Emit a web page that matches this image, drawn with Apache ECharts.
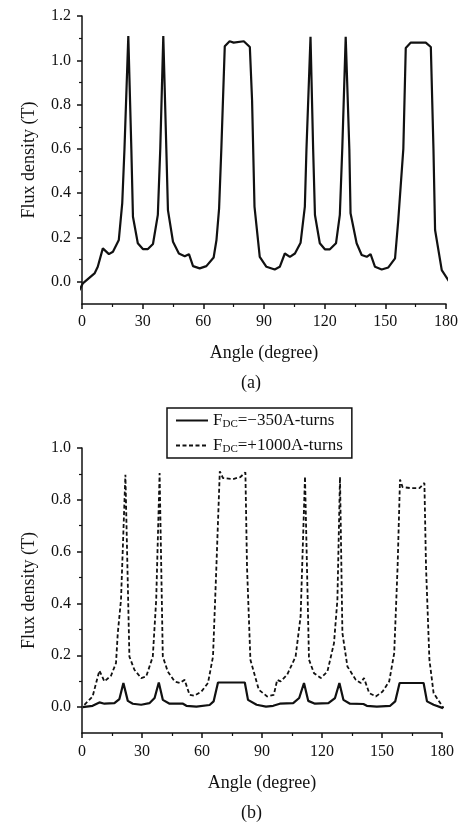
<!DOCTYPE html>
<html>
<head>
<meta charset="utf-8">
<title>Flux density</title>
<script src="https://cdn.jsdelivr.net/npm/echarts@6/dist/echarts.min.js"></script>
<style>
  html, body { margin: 0; padding: 0; background: #fff; }
  #main { width: 468px; height: 827px; }
</style>
</head>
<body>
<div id="main"></div>
<script>
// (a) flux density vs angle
var angleA = [-2, 0.4, 6.2, 7.8, 10.3, 13.3, 15.3, 18.2, 19.9, 21, 22.9, 24.4, 25.2, 27.6, 30.1, 32.6, 35.1, 37.5, 38.7, 40.2,
  41.7, 42.5, 45, 47.9, 50.8, 52.9, 54.9, 58.2, 61.5, 65.1, 66.5, 67.8, 68.9, 70.6, 73, 75, 80, 83, 84.1, 85.3,
  87.9, 91.2, 95.3, 97.8, 100.3, 102.8, 105.3, 108.1, 110.2, 111, 113, 114.3, 115.2, 117.6, 120.1, 122.6, 125.6, 127.5, 128.7, 130.4,
  132.2, 132.8, 135.8, 138.3, 140.8, 142.7, 144.9, 148.2, 151.5, 154.8, 156.4, 158.9, 160.1, 162.6, 170, 172.5, 173.8, 174.6, 177.9, 182.4];
var fluxA = [-0.05, -0.007, 0.038, 0.068, 0.151, 0.125, 0.136, 0.189, 0.355, 0.6, 1.11, 0.6, 0.294, 0.174, 0.148, 0.148, 0.171, 0.302, 0.6, 1.11,
  0.6, 0.324, 0.181, 0.128, 0.116, 0.125, 0.071, 0.061, 0.071, 0.11, 0.189, 0.332, 0.6, 1.063, 1.086, 1.08, 1.086, 1.06, 0.82, 0.34,
  0.113, 0.068, 0.056, 0.068, 0.128, 0.113, 0.128, 0.177, 0.34, 0.6, 1.106, 0.6, 0.302, 0.174, 0.147, 0.147, 0.174, 0.302, 0.6, 1.106,
  0.6, 0.31, 0.174, 0.121, 0.113, 0.125, 0.068, 0.056, 0.065, 0.106, 0.279, 0.6, 1.056, 1.08, 1.08, 1.06, 0.6, 0.234, 0.053, -0.01];

// (b) solid: FDC = -350 A-turns
var angleB1 = [0.3, 5.3, 8.7, 11.2, 16.2, 18.7, 20.7, 22.9, 25.4, 29.6, 33.7, 36.3, 38.4, 40.4, 43.8, 50.5, 52.2, 57.2, 63.8, 65.8,
  68, 81.4, 83, 87.3, 92, 95.6, 98.9, 105.6, 108.6, 111, 113.1, 116.5, 123.2, 126.5, 128.7, 130.7, 134, 140.7, 142.4, 147.4,
  154.1, 156.6, 158.8, 170.8, 172.5, 175.8, 180.5];
var fluxB1 = [0, 0.005, 0.018, 0.013, 0.015, 0.031, 0.093, 0.024, 0.013, 0.009, 0.015, 0.035, 0.095, 0.028, 0.013, 0.013, 0.005, 0.002, 0.008, 0.022,
  0.095, 0.095, 0.028, 0.009, 0.002, 0.005, 0.013, 0.015, 0.035, 0.093, 0.024, 0.013, 0.015, 0.035, 0.093, 0.028, 0.013, 0.012, 0.005, 0.002,
  0.005, 0.022, 0.093, 0.093, 0.022, 0.009, -0.004];

// (b) dashed: FDC = +1000 A-turns
var angleB2 = [1.2, 5.3, 8.7, 11.2, 14.5, 17, 17.9, 19.5, 21.7, 23.7, 26.2, 29.6, 32.1, 35.4, 37.1, 38.8, 40.4, 42.9, 46.3, 48.8,
  51.3, 53.8, 56.3, 59.7, 63, 65.5, 67.2, 68.9, 70.5, 75.5, 79.2, 81.7, 82.5, 84.2, 88.4, 92.6, 95.9, 97.6, 99.3, 102.6,
  106.8, 109.3, 111.5, 113.5, 116, 119.4, 122.7, 126, 127.7, 129, 130.2, 132.7, 136.9, 139.4, 141, 143.6, 146.9, 150.3, 153.6, 156.1,
  157.8, 159, 160.3, 164.5, 168.7, 171.2, 172, 173.7, 175.8, 180.8];
var fluxB2 = [0.009, 0.041, 0.141, 0.099, 0.121, 0.17, 0.286, 0.414, 0.897, 0.195, 0.144, 0.112, 0.118, 0.195, 0.414, 0.903, 0.195, 0.137, 0.099, 0.093,
  0.105, 0.047, 0.044, 0.06, 0.093, 0.195, 0.543, 0.91, 0.884, 0.88, 0.888, 0.906, 0.543, 0.183, 0.067, 0.041, 0.047, 0.105, 0.099, 0.125,
  0.195, 0.35, 0.89, 0.183, 0.131, 0.112, 0.137, 0.247, 0.414, 0.888, 0.286, 0.157, 0.105, 0.093, 0.112, 0.054, 0.041, 0.06, 0.099, 0.208,
  0.543, 0.878, 0.849, 0.845, 0.845, 0.865, 0.543, 0.183, 0.054, -0.004];

var yTicksA = [0, 0.2, 0.4, 0.6, 0.8, 1.0, 1.2];
var yMinorA = [0.1, 0.3, 0.5, 0.7, 0.9, 1.1];
var yTicksB = [0, 0.2, 0.4, 0.6, 0.8, 1.0];
var yMinorB = [0.1, 0.3, 0.5, 0.7, 0.9];

function pairs(xs, ys) {
  return xs.map(function (x, i) { return [x, ys[i]]; });
}

var font = '"Liberation Serif", "DejaVu Serif", serif';
var ink = '#111';

function xAxisFor(gi, margin, gap) {
  return {
    type: 'value', gridIndex: gi, min: 0, max: 180, interval: 30,
    name: 'Angle (degree)', nameLocation: 'middle', nameGap: gap,
    nameTextStyle: { fontFamily: font, fontSize: 18, color: ink },
    axisLine: { onZero: false, lineStyle: { color: ink, width: 1.5 } },
    axisTick: { length: 5, lineStyle: { color: ink, width: 1.5 } },
    minorTick: { show: true, splitNumber: 2, length: 3, lineStyle: { color: ink, width: 1.2 } },
    axisLabel: { margin: margin, fontFamily: font, fontSize: 16, color: ink },
    splitLine: { show: false }
  };
}

function yAxisFor(gi, min, max, ticks) {
  return {
    type: 'value', gridIndex: gi, min: min, max: max,
    name: 'Flux density (T)', nameLocation: 'middle', nameGap: 44, nameRotate: 90,
    nameTextStyle: { fontFamily: font, fontSize: 18, color: ink },
    axisLine: { onZero: false, lineStyle: { color: ink, width: 1.5 } },
    axisTick: { customValues: ticks, length: 5, lineStyle: { color: ink, width: 1.5 } },
    axisLabel: {
      customValues: ticks, margin: 11, fontFamily: font, fontSize: 16, color: ink,
      formatter: function (v) { return v.toFixed(1); }
    },
    splitLine: { show: false }
  };
}

function yMinorFor(gi, min, max, ticks) {
  return {
    type: 'value', gridIndex: gi, min: min, max: max, position: 'left',
    axisLine: { show: false },
    axisTick: { customValues: ticks, length: 3, lineStyle: { color: ink, width: 1.2 } },
    axisLabel: { show: false },
    splitLine: { show: false }
  };
}

var nameMap = {
  'neg': '{m|F}{s|DC}{m|=−350A-turns}',
  'pos': '{m|F}{s|DC}{m|=+1000A-turns}'
};

var chart = echarts.init(document.getElementById('main'));
chart.setOption({
  backgroundColor: '#fff',
  animation: false,
  grid: [
    { left: 82, right: 22, top: 16, height: 288 },
    { left: 82, right: 26, top: 448, height: 285 }
  ],
  xAxis: [xAxisFor(0, 10, 40), xAxisFor(1, 11, 41)],
  yAxis: [
    yAxisFor(0, -0.1, 1.2, yTicksA),
    yAxisFor(1, -0.1, 1.0, yTicksB),
    yMinorFor(0, -0.1, 1.2, yMinorA),
    yMinorFor(1, -0.1, 1.0, yMinorB)
  ],
  legend: {
    orient: 'vertical', left: 167, top: 408,
    padding: [4, 9, 3, 8], itemGap: 7, itemWidth: 32, itemHeight: 14,
    borderColor: ink, borderWidth: 1.5, borderRadius: 0,
    data: ['neg', 'pos'],
    itemStyle: { color: 'transparent', borderColor: 'transparent', borderWidth: 0 },
    formatter: function (n) { return nameMap[n]; },
    textStyle: {
      color: ink, fontFamily: font, fontSize: 17,
      rich: {
        m: { fontFamily: font, fontSize: 17, color: ink },
        s: { fontFamily: font, fontSize: 11, color: ink, padding: [8, 0, 0, 0] }
      }
    }
  },
  graphic: [
    { type: 'text', left: 241, top: 374, style: { text: '(a)', font: '18px ' + font, fill: ink } },
    { type: 'text', left: 241, top: 804, style: { text: '(b)', font: '18px ' + font, fill: ink } }
  ],
  series: [
    {
      type: 'line', xAxisIndex: 0, yAxisIndex: 0, symbol: 'none', clip: false,
      lineStyle: { color: ink, width: 2.2 }, data: pairs(angleA, fluxA)
    },
    {
      name: 'neg', type: 'line', xAxisIndex: 1, yAxisIndex: 1, symbol: 'none', clip: false,
      color: ink, lineStyle: { color: ink, width: 2.2 }, data: pairs(angleB1, fluxB1)
    },
    {
      name: 'pos', type: 'line', xAxisIndex: 1, yAxisIndex: 1, symbol: 'none', clip: false,
      color: ink, lineStyle: { color: ink, width: 1.8, type: [4, 2.5] }, data: pairs(angleB2, fluxB2)
    }
  ]
});
</script>
</body>
</html>
